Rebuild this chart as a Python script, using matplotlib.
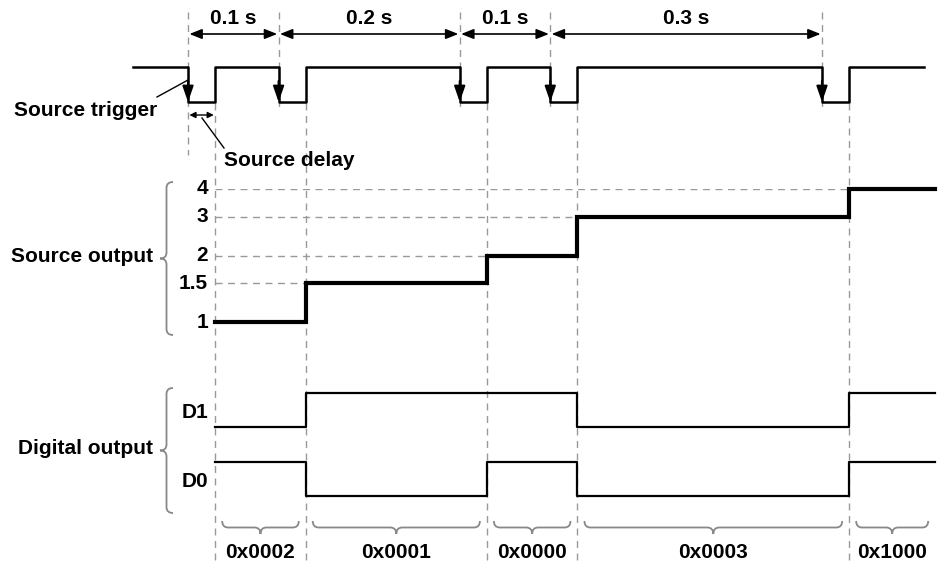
import numpy as np
import matplotlib.pyplot as plt
from matplotlib.path import Path
from matplotlib.patches import PathPatch
from matplotlib import transforms

plt.rcParams['font.family'] = ['Liberation Sans', 'DejaVu Sans']
plt.rcParams['font.weight'] = 'bold'

# data
trigger_times = [0.0, 0.1, 0.3, 0.4, 0.7]   # s
source_delay = 0.03                          # s
source_levels = [1, 1.5, 2, 3, 4]
level_ticks = [1, 1.5, 2, 3, 4]
level_labels = ['1', '1.5', '2', '3', '4']
digital_codes = [0x0002, 0x0001, 0x0000, 0x0003, 0x1000]

# layout
W, H = 939, 565
xlim = (-0.2076, 0.8292)
t_start, t_end = -0.061, 0.825
gray = '#999999'
fs = 15

out_times = [t + source_delay for t in trigger_times]
seg_edges = out_times + [t_end]

fig = plt.figure(figsize=(W / 100, H / 100), dpi=100)

# background axes in pixel coordinates for annotations
bg = fig.add_axes([0, 0, 1, 1])
bg.set_xlim(0, W)
bg.set_ylim(H, 0)
bg.axis('off')


def add_axes(top, bottom):
    a = fig.add_axes([0, (H - bottom) / H, 1, (bottom - top) / H])
    a.set_xlim(*xlim)
    a.axis('off')
    a.patch.set_alpha(0)
    return a


ax_trig = add_axes(67, 102)
ax_src = add_axes(189, 322)
ax_d1 = add_axes(393, 427)
ax_d0 = add_axes(462, 496)

# time on x, pixels on y
tx = transforms.blended_transform_factory(ax_trig.transData, bg.transData)

# source trigger
xs, ys = [t_start], [1]
for t in trigger_times:
    xs += [t, t, t + source_delay, t + source_delay]
    ys += [1, 0, 0, 1]
xs.append(t_end - 0.012)
ys.append(1)
ax_trig.plot(xs, ys, color='black', lw=1.8, clip_on=False)
ax_trig.set_ylim(0, 1)
for t in trigger_times:
    ax_trig.annotate('', xy=(t, 0), xytext=(t, 0.6),
                     arrowprops=dict(arrowstyle='-|>,head_width=0.33,head_length=0.95',
                                     color='black', lw=1.5,
                                     mutation_scale=10, shrinkA=0, shrinkB=0))

# source output
ax_src.set_yscale('log')
ax_src.set_ylim(1, 4)
ax_src.step(seg_edges, source_levels + [source_levels[-1]], where='post',
            color='black', lw=3, clip_on=False, solid_joinstyle='miter')
for t, lv in zip(out_times[1:], source_levels[1:]):
    ax_src.plot([out_times[0], t], [lv, lv], color=gray, lw=1, ls=(0, (5, 4)), zorder=0)
ly = transforms.blended_transform_factory(bg.transData, ax_src.transData)
for v, lab in zip(level_ticks, level_labels):
    ax_src.text(208, v, lab, transform=ly, ha='right', va='center', fontsize=fs)

# digital output (drawn active low)
d1 = [1 - ((c >> 1) & 1) for c in digital_codes]
d0 = [1 - (c & 1) for c in digital_codes]
for a, bits, name in [(ax_d1, d1, 'D1'), (ax_d0, d0, 'D0')]:
    a.set_ylim(0, 1)
    a.step(seg_edges, bits + [bits[-1]], where='post', color='black', lw=1.6,
           clip_on=False)
    a.text(208 / W, 0.42, name, transform=transforms.blended_transform_factory(
        fig.transFigure, a.transAxes), ha='right', va='center', fontsize=fs)

# vertical dashed guides
for i, t in enumerate(trigger_times):
    bg.plot([t, t], [12, 155 if i == 0 else 112], transform=tx, color=gray,
            lw=1, ls=(0, (5, 4)), zorder=0)
for t in out_times:
    bg.plot([t, t], [103, H], transform=tx, color=gray, lw=1, ls=(0, (5, 4)), zorder=0)

# periods
for t0, t1 in zip(trigger_times[:-1], trigger_times[1:]):
    bg.annotate('', xy=(t1, 34), xytext=(t0, 34), xycoords=tx, textcoords=tx,
                arrowprops=dict(arrowstyle='<|-|>,head_width=0.3,head_length=0.75',
                                color='black', lw=1.2,
                                mutation_scale=10, shrinkA=1, shrinkB=1))
    bg.text((t0 + t1) / 2, 18, f'{t1 - t0:.1f} s', transform=tx, ha='center',
            va='center', fontsize=fs)

# source delay
t0 = trigger_times[0]
bg.annotate('', xy=(t0 + source_delay, 115), xytext=(t0, 115), xycoords=tx, textcoords=tx,
            arrowprops=dict(arrowstyle='<|-|>', color='black', lw=1,
                            mutation_scale=9, shrinkA=1, shrinkB=1))
bg.plot([202, 224], [118, 148], color='black', lw=1)
bg.text(224, 160, 'Source delay', ha='left', va='center', fontsize=fs)

bg.plot([157, 188], [97, 80], color='black', lw=1)
bg.text(157, 110, 'Source trigger', ha='right', va='center', fontsize=fs)


def brace(x0, y0, x1, y1, w, color='#888888'):
    # curly brace from (x0,y0) to (x1,y1), bulging w pixels to the left of travel
    p0, p1 = np.array([x0, y0], float), np.array([x1, y1], float)
    L = np.linalg.norm(p1 - p0)
    u = (p1 - p0) / L
    n = np.array([u[1], -u[0]])
    r = min(6, L / 4)
    pts = [(0, 0), (0, w / 2), (r, w / 2), (L / 2 - r, w / 2), (L / 2, w / 2), (L / 2, w),
           (L / 2, w / 2), (L / 2 + r, w / 2), (L - r, w / 2), (L, w / 2), (L, 0)]
    codes = [Path.MOVETO, Path.CURVE3, Path.CURVE3, Path.LINETO, Path.CURVE3, Path.CURVE3,
             Path.CURVE3, Path.CURVE3, Path.LINETO, Path.CURVE3, Path.CURVE3]
    verts = [p0 + a * u + c * n for a, c in pts]
    bg.add_patch(PathPatch(Path(verts, codes), fill=False, ec=color, lw=1.3))


brace(173, 335, 173, 182, 13)
bg.text(153, 256, 'Source output', ha='right', va='center', fontsize=fs)
brace(173, 513, 173, 388, 13)
bg.text(153, 449, 'Digital output', ha='right', va='center', fontsize=fs)

# hex codes
to_px = lambda t: bg.transData.inverted().transform(ax_trig.transData.transform((t, 0)))[0]
for a, b, c in zip(seg_edges[:-1], seg_edges[1:], digital_codes):
    xa, xb = to_px(a) + 7, to_px(b) - 7
    brace(xb, 521, xa, 521, 13)
    bg.text((a + b) / 2, 552, f'0x{c:04X}', transform=tx, ha='center', va='center',
            fontsize=fs)

fig.savefig('out.png', dpi=100)
